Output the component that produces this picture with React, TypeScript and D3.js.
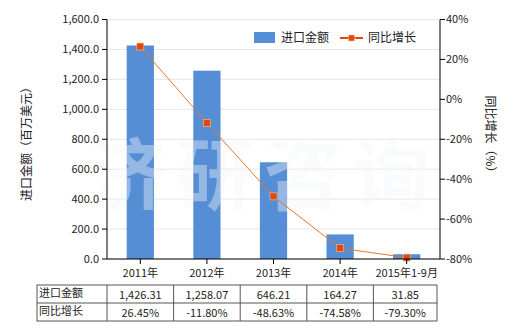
import React from "react";
import * as d3 from "d3";

const categories = ["2011年", "2012年", "2013年", "2014年", "2015年1-9月"];
const importValues = [1426.31, 1258.07, 646.21, 164.27, 31.85];
const growthValues = [26.45, -11.8, -48.63, -74.58, -79.3];
const importLabels = ["1,426.31", "1,258.07", "646.21", "164.27", "31.85"];
const growthLabels = ["26.45%", "-11.80%", "-48.63%", "-74.58%", "-79.30%"];
const leftTicks = [0, 200, 400, 600, 800, 1000, 1200, 1400, 1600];
const rightTicks = [-80, -60, -40, -20, 0, 20, 40];

const FONT = "'Noto Sans CJK SC', 'Microsoft YaHei', sans-serif";

export default function App() {
  const W = 520, H = 330;
  const left = 107, right = 440, top = 19.5, bottom = 259;
  const x = d3.scaleBand<string>().domain(categories).range([left, right]).paddingInner(0.6).paddingOuter(0.3);
  const xc = d3.scaleBand<string>().domain(categories).range([left, right]);
  const yL = d3.scaleLinear().domain([0, 1600]).range([bottom, top]);
  const yR = d3.scaleLinear().domain([-80, 40]).range([bottom, top]);
  const fmt = d3.format(",.1f");
  const line = d3.line<number>().x((_, i) => (xc(categories[i]) as number) + xc.bandwidth() / 2).y(d => yR(d));
  const tableTop = 285, rowH = 18, tableLeft = 37, firstCol = 107;
  const colW = xc.bandwidth();
  const tableRight = 437;
  return (
    <svg width={W} height={H} style={{ position: "absolute", left: 0, top: 0, fontFamily: FONT }}>
      <rect width={W} height={H} fill="#fff" />
      {leftTicks.map(t => (
        <line key={t} x1={left} x2={right} y1={yL(t)} y2={yL(t)} stroke="#e6e6e6" strokeWidth={1} />
      ))}
      {categories.map((c, i) => (
        <rect key={c} x={(x(c) as number) - 0.3} y={yL(importValues[i])} width={x.bandwidth() + 0.6}
          height={bottom - yL(importValues[i])} fill="#558ED5" />
      ))}
      <text x={88} y={204} fontSize={78} fontWeight="bold" fill="#f2f4f7" fillOpacity={0.4} letterSpacing={10}>济研咨询</text>
      <path d={line(growthValues) || ""} fill="none" stroke="#E8762C" strokeWidth={1} />
      {growthValues.map((v, i) => (
        <rect key={i} x={(xc(categories[i]) as number) + xc.bandwidth() / 2 - 3.5} y={yR(v) - 3.5} width={7} height={7}
          fill="#E2470E" stroke="#F6C58F" strokeWidth={0.6} />
      ))}
      {/* left axis */}
      <line x1={left} x2={left} y1={top} y2={bottom} stroke="#000" />
      {leftTicks.map(t => (
        <g key={t}>
          <line x1={left - 5} x2={left} y1={yL(t)} y2={yL(t)} stroke="#000" />
          <text x={left - 8} y={yL(t)} dy="0.35em" textAnchor="end" fontSize={11} fill="#222">{fmt(t)}</text>
        </g>
      ))}
      {/* right axis */}
      <line x1={right} x2={right} y1={top} y2={bottom} stroke="#000" />
      {rightTicks.map(t => (
        <g key={t}>
          <line x1={right} x2={right + 5} y1={yR(t)} y2={yR(t)} stroke="#000" />
          <text x={right + 6} y={yR(t)} dy="0.35em" textAnchor="start" fontSize={11} fill="#222">{t}%</text>
        </g>
      ))}
      {/* x axis */}
      <line x1={left} x2={right} y1={bottom} y2={bottom} stroke="#000" />
      {categories.map(c => {
        const cx = (xc(c) as number) + xc.bandwidth() / 2;
        return (
          <g key={c}>
            <line x1={cx} x2={cx} y1={bottom} y2={bottom + 5} stroke="#000" />
            <text x={cx} y={273} dy="0.35em" textAnchor="middle" fontSize={11} fill="#222">{c}</text>
          </g>
        );
      })}
      {/* axis titles */}
      <text transform={`translate(27,141) rotate(-90)`} textAnchor="middle" dy="0.35em" fontSize={12} fill="#222">进口金额（百万美元）</text>
      <text transform={`translate(490,137) rotate(90)`} textAnchor="middle" dy="0.35em" fontSize={12} fill="#222">同比增长（%）</text>
      {/* legend */}
      <rect x={254} y={32} width={21} height={11} fill="#558ED5" />
      <text x={281} y={38} dy="0.35em" fontSize={12} fill="#222">进口金额</text>
      <line x1={340} x2={363} y1={38} y2={38} stroke="#E2470E" strokeWidth={2} />
      <rect x={348.5} y={35} width={6} height={6} fill="#E2470E" stroke="#F6C58F" strokeWidth={0.6} />
      <text x={368} y={38} dy="0.35em" fontSize={12} fill="#222">同比增长</text>
      {/* table */}
      <g stroke="#555" strokeWidth={1} fill="none">
        <rect x={tableLeft} y={tableTop} width={tableRight - tableLeft} height={rowH * 2} />
        <line x1={tableLeft} x2={tableRight} y1={tableTop + rowH} y2={tableTop + rowH} />
        {categories.map((c, i) => (
          <line key={c} x1={firstCol + colW * i} x2={firstCol + colW * i} y1={tableTop} y2={tableTop + rowH * 2} />
        ))}
      </g>
      <text x={tableLeft + 2} y={tableTop + rowH / 2 - 1} dy="0.35em" fontSize={11} fill="#222">进口金额</text>
      <text x={tableLeft + 2} y={tableTop + rowH * 1.5 - 1} dy="0.35em" fontSize={11} fill="#222">同比增长</text>
      {categories.map((c, i) => {
        const cx = i < 4 ? firstCol + colW * (i + 0.5) : (firstCol + colW * 4 + tableRight) / 2;
        return (
          <g key={c}>
            <text x={cx} y={tableTop + rowH / 2 + 1} dy="0.35em" textAnchor="middle" fontSize={11} fill="#222">{importLabels[i]}</text>
            <text x={cx} y={tableTop + rowH * 1.5 + 1} dy="0.35em" textAnchor="middle" fontSize={11} fill="#222">{growthLabels[i]}</text>
          </g>
        );
      })}
    </svg>
  );
}
